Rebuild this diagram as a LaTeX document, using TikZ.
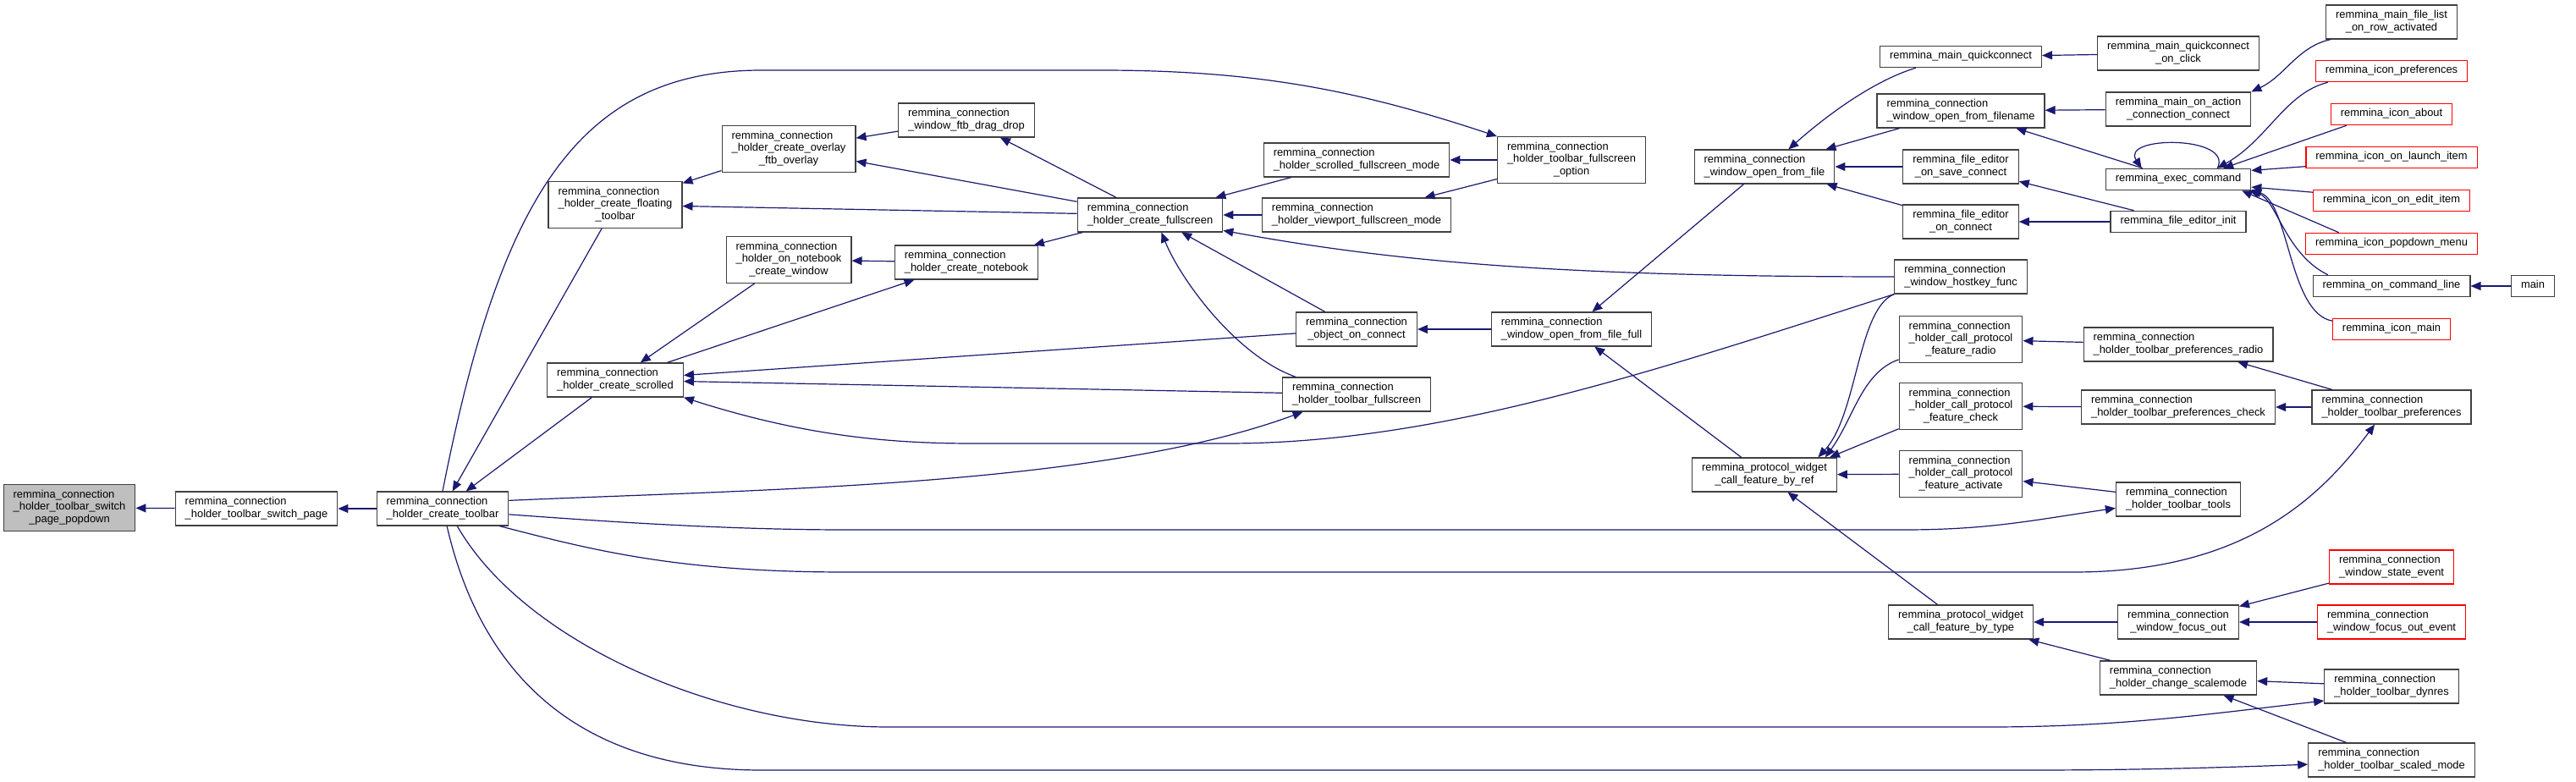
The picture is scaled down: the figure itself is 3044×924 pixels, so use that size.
\documentclass[tikz,border=0pt]{standalone}
\usepackage{fontspec}
\setmainfont{Liberation Sans}
\usepackage{xcolor}
\usepackage{tikz}
\usetikzlibrary{arrows.meta}
\definecolor{edgeblue}{RGB}{25,25,112}
\definecolor{rootgray}{RGB}{191,191,191}
\definecolor{boxgray}{RGB}{64,64,64}
\definecolor{boxred}{RGB}{255,0,0}
\newcommand{\fname}[2]{\begin{tabular}{@{}l@{}}#1\\\multicolumn{1}{@{}c@{}}{#2}\end{tabular}}

\begin{document}
\begin{tikzpicture}[
    x=0.5pt, y=-0.5pt,
    fnbox/.style={
        rectangle,
        draw=boxgray,
        line width=0.6pt,
        fill=white,
        inner xsep=5.75pt,
        inner ysep=2.65pt,
        font=\fontsize{6.45}{7.35}\selectfont
    },
    rootbox/.style={fnbox, fill=rootgray},
    redbox/.style={fnbox, draw=boxred},
    edge/.style={{Triangle[length=6pt,width=5pt]}-, draw=edgeblue, line width=0.6pt}
]
\useasboundingbox (0,0) rectangle (3044,924);

\node[rootbox] (popdown) at (82,600) {\fname{remmina\_connection\\\_holder\_toolbar\_switch}{\_page\_popdown}};
\node[fnbox] (switchpage) at (303,601) {\fname{remmina\_connection}{\_holder\_toolbar\_switch\_page}};
\node[fnbox] (createtb) at (523,601) {\fname{remmina\_connection}{\_holder\_create\_toolbar}};
\node[fnbox] (floating) at (727,242) {\fname{remmina\_connection\\\_holder\_create\_floating}{\_toolbar}};
\node[fnbox] (scrolled) at (727,449) {\fname{remmina\_connection}{\_holder\_create\_scrolled}};
\node[fnbox] (overlay) at (932,176) {\fname{remmina\_connection\\\_holder\_create\_overlay}{\_ftb\_overlay}};
\node[fnbox] (nbwindow) at (932,307) {\fname{remmina\_connection\\\_holder\_on\_notebook}{\_create\_window}};
\node[fnbox] (dragdrop) at (1142,142) {\fname{remmina\_connection}{\_window\_ftb\_drag\_drop}};
\node[fnbox] (notebook) at (1142,310) {\fname{remmina\_connection}{\_holder\_create\_notebook}};
\node[fnbox] (fullscreen) at (1359,254) {\fname{remmina\_connection}{\_holder\_create\_fullscreen}};
\node[fnbox] (scrolledfs) at (1603,189) {\fname{remmina\_connection}{\_holder\_scrolled\_fullscreen\_mode}};
\node[fnbox] (viewportfs) at (1603,254) {\fname{remmina\_connection}{\_holder\_viewport\_fullscreen\_mode}};
\node[fnbox] (fsoption) at (1857,189) {\fname{remmina\_connection\\\_holder\_toolbar\_fullscreen}{\_option}};
\node[fnbox] (objconnect) at (1603,389) {\fname{remmina\_connection}{\_object\_on\_connect}};
\node[fnbox] (openfull) at (1857,389) {\fname{remmina\_connection}{\_window\_open\_from\_file\_full}};
\node[fnbox] (tbfull) at (1603,466) {\fname{remmina\_connection}{\_holder\_toolbar\_fullscreen}};
\node[fnbox] (openfile) at (2085,197) {\fname{remmina\_connection}{\_window\_open\_from\_file}};
\node[fnbox] (quickconn) at (2317,67) {\strut remmina\_main\_quickconnect};
\node[fnbox] (openfname) at (2317,131) {\fname{remmina\_connection}{\_window\_open\_from\_filename}};
\node[fnbox] (saveconn) at (2317,197) {\fname{remmina\_file\_editor}{\_on\_save\_connect}};
\node[fnbox] (editconn) at (2317,262) {\fname{remmina\_file\_editor}{\_on\_connect}};
\node[fnbox] (hostkey) at (2317,327) {\fname{remmina\_connection}{\_window\_hostkey\_func}};
\node[fnbox] (cpradio) at (2317,401) {\fname{remmina\_connection\\\_holder\_call\_protocol}{\_feature\_radio}};
\node[fnbox] (cpcheck) at (2317,480) {\fname{remmina\_connection\\\_holder\_call\_protocol}{\_feature\_check}};
\node[fnbox] (cpactivate) at (2317,560) {\fname{remmina\_connection\\\_holder\_call\_protocol}{\_feature\_activate}};
\node[fnbox] (byref) at (2085,561) {\fname{remmina\_protocol\_widget}{\_call\_feature\_by\_ref}};
\node[fnbox] (bytype) at (2317,735) {\fname{remmina\_protocol\_widget}{\_call\_feature\_by\_type}};
\node[fnbox] (qconclick) at (2574,63) {\fname{remmina\_main\_quickconnect}{\_on\_click}};
\node[fnbox] (onaction) at (2574,129) {\fname{remmina\_main\_on\_action}{\_connection\_connect}};
\node[fnbox] (execcmd) at (2574,212) {\strut remmina\_exec\_command};
\node[fnbox] (editorinit) at (2574,262) {\strut remmina\_file\_editor\_init};
\node[fnbox] (prefradio) at (2574,407) {\fname{remmina\_connection}{\_holder\_toolbar\_preferences\_radio}};
\node[fnbox] (prefcheck) at (2574,481) {\fname{remmina\_connection}{\_holder\_toolbar\_preferences\_check}};
\node[fnbox] (tbtools) at (2574,590) {\fname{remmina\_connection}{\_holder\_toolbar\_tools}};
\node[fnbox] (focusout) at (2574,735) {\fname{remmina\_connection}{\_window\_focus\_out}};
\node[fnbox] (scalemode) at (2574,801) {\fname{remmina\_connection}{\_holder\_change\_scalemode}};
\node[fnbox] (rowact) at (2826,26) {\fname{remmina\_main\_file\_list}{\_on\_row\_activated}};
\node[redbox] (iconprefs) at (2826,84) {\strut remmina\_icon\_preferences};
\node[redbox] (iconabout) at (2826,135) {\strut remmina\_icon\_about};
\node[redbox] (launchitem) at (2826,186) {\strut remmina\_icon\_on\_launch\_item};
\node[redbox] (edititem) at (2826,237) {\strut remmina\_icon\_on\_edit\_item};
\node[redbox] (popmenu) at (2826,288) {\strut remmina\_icon\_popdown\_menu};
\node[fnbox] (cmdline) at (2826,338) {\strut remmina\_on\_command\_line};
\node[redbox] (iconmain) at (2826,389) {\strut remmina\_icon\_main};
\node[fnbox] (mainfn) at (2993,338) {\strut main};
\node[fnbox] (tbprefs) at (2826,481) {\fname{remmina\_connection}{\_holder\_toolbar\_preferences}};
\node[redbox] (stateevent) at (2826,670) {\fname{remmina\_connection}{\_window\_state\_event}};
\node[redbox] (focusoutev) at (2826,735) {\fname{remmina\_connection}{\_window\_focus\_out\_event}};
\node[fnbox] (tbdynres) at (2826,811) {\fname{remmina\_connection}{\_holder\_toolbar\_dynres}};
\node[fnbox] (tbscaled) at (2826,898) {\fname{remmina\_connection}{\_holder\_toolbar\_scaled\_mode}};

\draw[edge] (popdown) -- (switchpage);
\draw[edge] (switchpage) -- (createtb);
\draw[edge] (createtb) -- (floating);
\draw[edge] (createtb) -- (scrolled);
\draw[edge] (fsoption.north west) .. controls (1600,105) and (1480,83) .. (1300,83) -- (900,83) .. controls (680,83) and (590,240) .. (createtb.north);
\draw[edge] (floating) -- (overlay);
\draw[edge] (floating) -- (fullscreen);
\draw[edge] (overlay) -- (dragdrop);
\draw[edge] (overlay) -- (fullscreen);
\draw[edge] (nbwindow) -- (notebook);
\draw[edge] (scrolled) -- (nbwindow);
\draw[edge] (notebook) -- (scrolled);
\draw[edge] (scrolled) -- (objconnect);
\draw[edge] (scrolled) -- (tbfull);
\draw[edge] (scrolled.south east) .. controls (950,515) and (1050,524) .. (1150,524) -- (1450,524) .. controls (1700,524) and (1950,440) .. (hostkey.south west);
\draw[edge] (fullscreen.-12) .. controls (1650,310) and (1850,327) .. (hostkey.west);
\draw[edge] (dragdrop) -- (fullscreen);
\draw[edge] (notebook) -- (fullscreen);
\draw[edge] (fullscreen) -- (scrolledfs);
\draw[edge] (fullscreen) -- (viewportfs);
\draw[edge] (fullscreen) -- (objconnect);
\draw[edge] (fullscreen.-57) .. controls (1395,330) and (1460,420) .. (tbfull.164);
\draw[edge] (scrolledfs) -- (fsoption);
\draw[edge] (viewportfs) -- (fsoption);
\draw[edge] (objconnect) -- (openfull);
\draw[edge] (openfull) -- (openfile);
\draw[edge] (openfull) -- (byref);
\draw[edge] (openfile.36) .. controls (2160,135) and (2215,95) .. (quickconn.-166);
\draw[edge] (openfile) -- (openfname);
\draw[edge] (openfile) -- (saveconn);
\draw[edge] (openfile) -- (editconn);
\draw[edge] (quickconn) -- (qconclick);
\draw[edge] (openfname) -- (onaction);
\draw[edge] (openfname) -- (execcmd);
\draw[edge] (saveconn) -- (editorinit);
\draw[edge] (editconn) -- (editorinit);
\draw[edge] (byref.18) .. controls (2195,490) and (2195,365) .. (hostkey.south west);
\draw[edge] (byref.16) .. controls (2190,495) and (2200,440) .. (cpradio.-162);
\draw[edge] (byref.15) -- (cpcheck.-160);
\draw[edge] (byref) -- (cpactivate);
\draw[edge] (byref) -- (bytype);
\draw[edge] (cpradio) -- (prefradio);
\draw[edge] (cpcheck) -- (prefcheck);
\draw[edge] (cpactivate) -- (tbtools);
\draw[edge] (bytype) -- (focusout);
\draw[edge] (bytype) -- (scalemode);
\draw[edge] (onaction.north east) .. controls (2700,90) and (2715,55) .. (rowact.-164);
\draw[edge] (execcmd.163) .. controls (2505,160) and (2640,160) .. (execcmd.16);
\draw[edge] (execcmd.16) .. controls (2680,165) and (2700,110) .. (iconprefs.-170);
\draw[edge] (execcmd.14) -- (iconabout.-166);
\draw[edge] (execcmd.7) -- (launchitem.-174);
\draw[edge] (execcmd.-6) -- (edititem.174);
\draw[edge] (execcmd.-10) -- (popmenu.168);
\draw[edge] (execcmd.-9) .. controls (2690,235) and (2700,300) .. (cmdline.170);
\draw[edge] (execcmd.-8) .. controls (2705,240) and (2705,370) .. (iconmain.172);
\draw[edge] (cmdline) -- (mainfn);
\draw[edge] (prefradio) -- (tbprefs);
\draw[edge] (prefcheck) -- (tbprefs);
\draw[edge] (focusout) -- (stateevent);
\draw[edge] (focusout) -- (focusoutev);
\draw[edge] (scalemode) -- (tbdynres);
\draw[edge] (scalemode) -- (tbscaled);
\draw[edge] (tbfull.-162) .. controls (1300,575) and (900,578) .. (createtb.7);
\draw[edge] (tbtools.-172) .. controls (2400,615) and (2350,626) .. (2250,626) -- (1000,626) .. controls (850,626) and (700,615) .. (createtb.-5);
\draw[edge] (tbprefs.-134) .. controls (2740,590) and (2650,676) .. (2450,676) -- (1000,676) .. controls (800,676) and (700,650) .. (createtb.-17);
\draw[edge] (tbdynres.-168) .. controls (2600,845) and (2500,859) .. (2350,859) -- (1050,859) .. controls (850,859) and (620,760) .. (createtb.-50);
\draw[edge] (tbscaled.-177) .. controls (2600,908) and (2500,910) .. (2400,910) -- (900,910) .. controls (650,910) and (560,760) .. (createtb.-76);

\end{tikzpicture}
\end{document}
